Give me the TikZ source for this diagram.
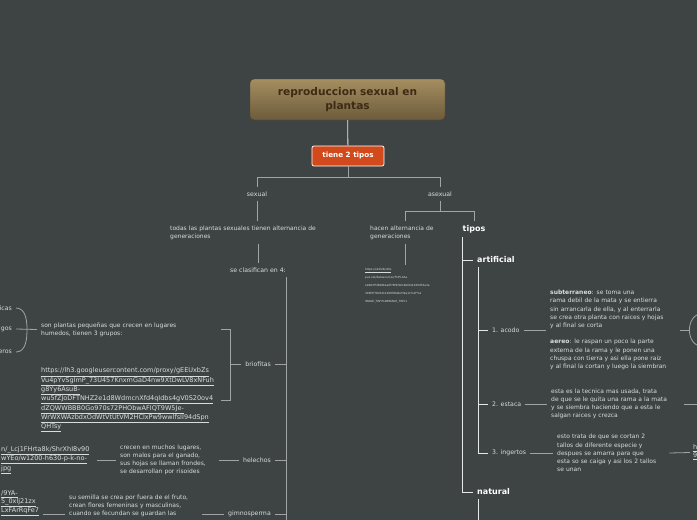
\documentclass[tikz,border=0pt]{standalone}
\usepackage{fontspec}
\setmainfont{DejaVu Sans}
\usetikzlibrary{positioning}
\definecolor{bgcol}{HTML}{3E4444}
\definecolor{linecol}{HTML}{A0A4A4}
\definecolor{brightcol}{HTML}{E6E8E8}
\definecolor{txtcol}{HTML}{D8DCDC}
\definecolor{titletop}{HTML}{A58E60}
\definecolor{titlebot}{HTML}{6C5B3B}
\definecolor{titletxt}{HTML}{3F2A14}
\definecolor{tipofill}{HTML}{D2491C}
\newcommand{\ulink}[1]{\underline{#1}}
\tikzset{
    maintopic/.style={rectangle, draw=titlebot!70!black, top color=titletop, bottom color=titlebot, rounded corners=4pt, minimum width=195pt, minimum height=41pt, text width=180pt, align=center, font=\fontsize{10.6}{13.5}\selectfont\bfseries, text=titletxt},
    subtopic/.style={rectangle, draw=white, line width=0.7pt, fill=tipofill, rounded corners=2pt, minimum width=72pt, minimum height=20pt, font=\fontsize{7.2}{9}\selectfont\bfseries, text=white},
    lbl/.style={font=\fontsize{6.2}{8}\selectfont, text=txtcol, inner sep=4pt},
    txt/.style={font=\fontsize{6}{8.2}\selectfont, text=txtcol, inner sep=4pt, align=left},
    urltxt/.style={font=\fontsize{6.5}{8.1}\selectfont, text=txtcol, inner sep=4pt, align=left},
    tinyurl/.style={font=\fontsize{2.8}{8}\selectfont, text=txtcol, inner sep=3pt, align=left},
    head/.style={font=\fontsize{8}{10}\selectfont\bfseries, text=white, inner sep=4pt},
    link/.style={draw=linecol, line width=0.8pt},
    blink/.style={draw=brightcol, line width=0.8pt},
}
\begin{document}
\begin{tikzpicture}[x=1pt, y=-1pt]
    \fill[bgcol] (0,0) rectangle (697,520);
    \useasboundingbox (0,0) rectangle (697,520);

    % Main topic
    \node[maintopic] (title) at (347.5,99.5) {reproduccion sexual en\\plantas};
    \node[subtopic] (tipos2) at (348,156) {tiene 2 tipos};
    \draw[blink] (title) -- (tipos2);

    % First split
    \node[lbl] (sexual) at (257,194) {sexual};
    \node[lbl] (asexual) at (440,194) {asexual};
    \draw[link] (tipos2.south) -- ++(0,11) -| (sexual.north);
    \draw[link] (tipos2.south) -- ++(0,11) -| (asexual.north);

    % Sexual branch
    \node[txt, anchor=west, text width=165pt] (todas) at (166,232.5) {todas las plantas sexuales tienen alternancia de\\generaciones};
    \node[lbl] (clasif) at (258,270) {se clasifican en 4:};
    \draw[link] (sexual.south) -- (sexual.south |- todas.north);
    \draw[link] (todas.south -| clasif) -- (clasif.north);
    \coordinate (clspine) at (286,277);
    \draw[link] (clspine) -- ++(0,250);

    % briofitas
    \node[lbl, anchor=east] (briofitas) at (275,364) {briofitas};
    \node[txt, anchor=west, text width=176pt] (son) at (37,329.5) {son plantas pequeñas que crecen en lugares\\humedos, tienen 3 grupos:};
    \node[urltxt, anchor=west, text width=176pt] (brurl) at (37,400) {\ulink{https://lh3.googleusercontent.com/proxy/gEEUxbZs}\\\ulink{Vu4pYvSgImP\_73U457KnxmGaD4nw9XtDwLV8xNFuh}\\\ulink{g8Yy6AsuB-}\\\ulink{wu5fZJoDFTNHZ2e1d8WdmcnXfd4qIdbs4gV0S20ov4}\\\ulink{dZQWWBBB0Go970s72PHObwAFIQT9W5Je-}\\\ulink{WrWXWAzbdxOdWtVtUtVM2HClxPw9wwlfsII94dSpn}\\\ulink{QHTsy}};
    \draw[link] (briofitas.east) -- (briofitas.east -| clspine);
    \draw[link] (briofitas.west) -- ++(-11,0);
    \draw[link] (son.east) -| ([xshift=-11pt]briofitas.west) |- (brurl.east);
    \node[lbl, anchor=east] (hepaticas) at (16,308) {icas};
    \node[lbl, anchor=east] (musgos) at (16,329) {gos};
    \node[lbl, anchor=east] (antoceros) at (16,352) {eros};
    \draw[link] (son.west) -- (musgos.east);
    \draw[link] (hepaticas.east) to[out=0, in=90] ([xshift=11pt]musgos.east) to[out=-90, in=0] (antoceros.east);

    % helechos
    \node[lbl, anchor=east] (helechos) at (275,460) {helechos};
    \node[txt, anchor=west, text width=95pt] (heldesc) at (116,460) {crecen en muchos lugares,\\son malos para el ganado,\\sus hojas se llaman frondes,\\se desarrollan por risoides};
    \node[urltxt, anchor=west, text width=92pt] (helurl) at (-3,460) {\ulink{n/\_Lcj1FHrta8k/ShrXhI8v90}\\\ulink{wYEo/w1200-h630-p-k-no-}\\\ulink{jpg}};
    \draw[link] (helechos.east) -- (helechos.east -| clspine);
    \draw[link] (heldesc.east) -- (helechos.west);
    \draw[link] (helurl.east) -- (heldesc.west);

    % gimnosperma
    \node[lbl, anchor=east] (gimno) at (275,514) {gimnosperma};
    \node[txt, anchor=north west, text width=129pt] (gimdesc) at (65,490.5) {su semilla se crea por fuera de el fruto,\\crean flores femeninas y masculinas,\\cuando se fecundan se guardan las};
    \node[urltxt, anchor=north west, text width=38pt] (gimurl) at (-3,486) {\ulink{/9YA-}\\\ulink{5\_0xlj21zx}\\\ulink{LxFArRqFe7}};
    \draw[link] (gimno.east) -- (gimno.east -| clspine);
    \draw[link] (gimdesc.east |- gimno) -- (gimno.west);
    \draw[link] (gimurl.east |- gimno) -- (gimdesc.west |- gimno);

    % Asexual branch
    \node[txt, anchor=west, text width=70pt] (hacen) at (366,232.5) {hacen alternancia de\\generaciones};
    \node[head] (tipos) at (474,229) {tipos};
    \draw[link] (asexual.south) -- ++(0,11) -| (hacen.north);
    \draw[link] (asexual.south) -- ++(0,11) -| (tipos.north);
    \node[tinyurl, anchor=north west] (tinyurl) at (362,265) {\ulink{https://ok2l2bcd0x}\\pus.net/datasources/7f4\%3Aa\\e0482f5f828b1a6f78f9f4b18ef0413d9d53a3a\\308f5f78d741492f6f8d4e5f4a11\%2F\%2\\IMAGE\_TINY\%2BIMAGE\_TINY.1};
    \draw[link] (hacen.south) -- (hacen.south |- tinyurl.north);

    % tipos
    \node[head, anchor=west] (artificial) at (473,260) {artificial};
    \node[head, anchor=west] (natural) at (473,492) {natural};
    \coordinate (tiposspine) at ([xshift=4pt]tipos.south west);
    \draw[blink] (tiposspine) |- (natural.west);
    \draw[blink] (tiposspine |- artificial.west) -- (artificial.west);
    \draw[blink] ([xshift=5pt]natural.south west) -- ++(0,40);

    % artificial
    \node[lbl, anchor=west] (acodo) at (488,330) {1. acodo};
    \node[lbl, anchor=west] (estaca) at (488,404) {2. estaca};
    \node[lbl, anchor=west] (ingertos) at (488,453) {3. ingertos};
    \coordinate (artspine) at ([xshift=5pt]artificial.south west);
    \draw[blink] (artspine) |- (ingertos.west);
    \draw[blink] (artspine |- acodo.west) -- (acodo.west);
    \draw[blink] (artspine |- estaca.west) -- (estaca.west);

    % acodo
    \node[txt, anchor=west, text width=126pt] (acododesc) at (546,330) {\textbf{subterraneo}: se toma una\\rama debil de la mata y se entierra\\sin arrancarla de ella, y al enterrarla\\se crea otra planta con raices y hojas\\y al final se corta\\[8.2pt]\textbf{aereo}: le raspan un poco la parte\\externa de la rama y le ponen una\\chuspa con tierra y asi ella pone raiz\\y al final la cortan y luego la siembran};
    \draw[link] (acodo.east) -- (acododesc.west);
    \coordinate (acodoR) at ([xshift=9pt]acododesc.east);
    \draw[link] (acododesc.east) -- (acodoR);
    \draw[link] ([shift={(12pt,16pt)}]acodoR) to[out=180, in=90] (acodoR) to[out=-90, in=180] ([shift={(12pt,-16pt)}]acodoR);

    % estaca
    \node[txt, anchor=west, text width=129pt] (estdesc) at (547,404) {esta es la tecnica mas usada, trata\\de que se le quita una rama a la mata\\y se siembra haciendo que a esta le\\salgan raices y crezca};
    \draw[link] (estaca.east) -- (estdesc.west);
    \coordinate (estacaR) at ([xshift=20pt]estdesc.east);
    \draw[link] (estdesc.east) -- (estacaR);

    % ingertos
    \node[txt, anchor=west, text width=108pt] (ingdesc) at (553,453) {esto trata de que se cortan 2\\tallos de diferente especie y\\despues se amarra para que\\esta so se caiga y asi los 2 tallos\\se unan};
    \node[urltxt, anchor=west, inner sep=3pt] (ingurl) at (690,452.5) {\ulink{h}\\\ulink{9}};
    \draw[link] (ingertos.east) -- (ingdesc.west);
    \draw[link] (ingdesc.east) -- (ingurl.west);
\end{tikzpicture}
\end{document}
